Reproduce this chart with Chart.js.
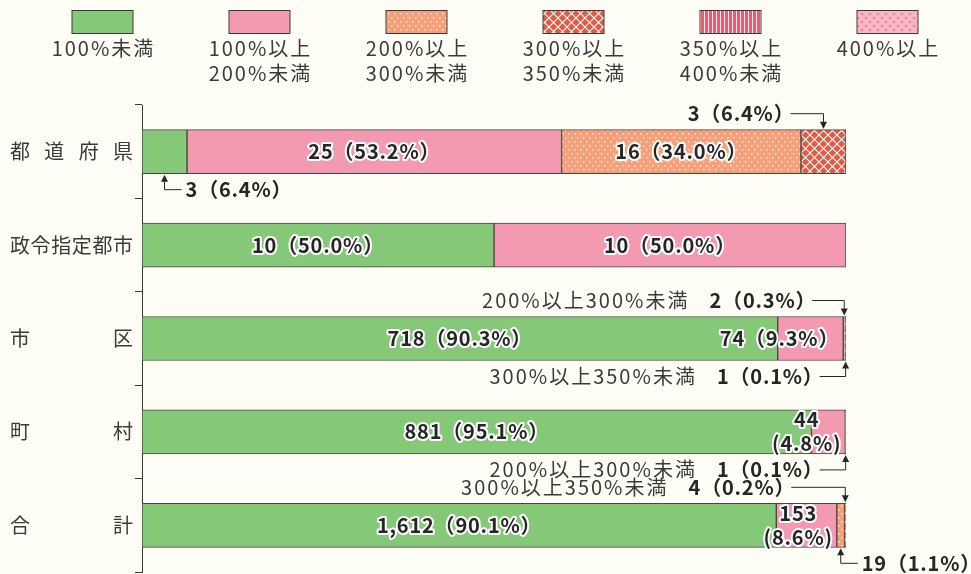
<!DOCTYPE html>
<html lang="ja">
<head>
<meta charset="utf-8">
<script src="https://cdn.jsdelivr.net/npm/chart.js@4.4.1/dist/chart.umd.min.js"></script>
<style>
  html, body { margin: 0; padding: 0; background: #fffef6; }
  #wrap { width: 971px; height: 574px; }
</style>
</head>
<body>
<div id="wrap"><canvas id="chart" width="971" height="574"></canvas></div>
<script>
const categories = ['都道府県', '政令指定都市', '市区', '町村', '合計'];
const seriesNames = [
    ['100%未満'],
    ['100%以上', '200%未満'],
    ['200%以上', '300%未満'],
    ['300%以上', '350%未満'],
    ['350%以上', '400%未満'],
    ['400%以上']
];

// 団体数
const countUnder100 = [3, 10, 718, 881, 1612];
const count100to200 = [25, 10, 74, 44, 153];
const count200to300 = [16, 0, 2, 1, 19];
const count300to350 = [3, 0, 1, 0, 4];
const count350to400 = [0, 0, 0, 0, 0];
const countOver400 = [0, 0, 0, 0, 0];

// 構成比（%）
const pctUnder100 = [6.4, 50.0, 90.3, 95.1, 90.1];
const pct100to200 = [53.2, 50.0, 9.3, 4.8, 8.6];
const pct200to300 = [34.0, 0, 0.3, 0.1, 1.1];
const pct300to350 = [6.4, 0, 0.1, 0, 0.2];
const pct350to400 = [0, 0, 0, 0, 0];
const pctOver400 = [0, 0, 0, 0, 0];

const counts = [countUnder100, count100to200, count200to300, count300to350, count350to400, countOver400];
const pcts = [pctUnder100, pct100to200, pct200to300, pct300to350, pct350to400, pctOver400];

const FONT = '"Noto Sans CJK JP", "Noto Sans", sans-serif';
const canvas = document.getElementById('chart');
const ctx = canvas.getContext('2d');

const makePattern = (w, h, base, draw) => {
    const tile = document.createElement('canvas');
    tile.width = w;
    tile.height = h;
    const g = tile.getContext('2d');
    g.fillStyle = base;
    g.fillRect(0, 0, w, h);
    draw(g);
    return ctx.createPattern(tile, 'repeat');
};

const dots = makePattern(6, 8, '#f5a078', g => {
    g.fillStyle = 'rgba(255,255,255,0.85)';
    g.fillRect(1, 1, 1.5, 1.5);
    g.fillRect(4, 5, 1.5, 1.5);
});
const lattice = makePattern(9, 9, '#de5b45', g => {
    g.strokeStyle = '#ffffff';
    g.lineWidth = 1.1;
    g.beginPath();
    g.moveTo(-1, -1); g.lineTo(10, 10);
    g.moveTo(10, -1); g.lineTo(-1, 10);
    g.stroke();
});
const stripes = makePattern(4, 4, '#f15a6c', g => {
    g.fillStyle = '#ffffff';
    g.fillRect(0, 0, 1, 4);
});
const triangles = makePattern(8, 8, '#fbb8c2', g => {
    g.fillStyle = '#f4889a';
    g.beginPath();
    g.moveTo(0, 1); g.lineTo(4, 1); g.lineTo(2, 4); g.closePath();
    g.moveTo(4, 5); g.lineTo(8, 5); g.lineTo(6, 8); g.closePath();
    g.fill();
});

const fills = ['#85c878', '#f49ab0', dots, lattice, stripes, triangles];

// 棒の中に書くラベルの置き方（データセット-団体区分）
const labelMode = {
    '1-0': 'center', '2-0': 'center',
    '0-1': 'center', '1-1': 'center',
    '0-2': 'center', '1-2': 'right',
    '0-3': 'center', '1-3': 'stack',
    '0-4': 'center', '1-4': 'stack'
};

// 棒の外に矢印で出すラベル
const callouts = [
    { ds: 3, idx: 0, side: 'above', dir: 'left', reach: 33, named: false },
    { ds: 0, idx: 0, side: 'below', dir: 'right', reach: 17, named: false },
    { ds: 2, idx: 2, side: 'above', dir: 'left', reach: 32, named: true },
    { ds: 3, idx: 2, side: 'below', dir: 'left', reach: 26, named: true },
    { ds: 2, idx: 3, side: 'below', dir: 'left', reach: 26, named: true },
    { ds: 3, idx: 4, side: 'above', dir: 'left', reach: 54, named: true },
    { ds: 2, idx: 4, side: 'below', dir: 'right', reach: 17, named: false }
];

const fmt = n => n.toLocaleString('en-US');

const outlined = (c, text, x, y) => {
    c.lineJoin = 'round';
    c.lineWidth = 4;
    c.strokeStyle = '#ffffff';
    c.strokeText(text, x, y);
    c.fillStyle = '#262626';
    c.fillText(text, x, y);
};

const background = {
    id: 'background',
    beforeDraw(chart) {
        const c = chart.ctx;
        c.save();
        c.fillStyle = '#fffef6';
        c.fillRect(0, 0, chart.width, chart.height);
        c.restore();
    }
};

const topLegend = {
    id: 'topLegend',
    afterDraw(chart) {
        const c = chart.ctx;
        c.save();
        chart.data.datasets.forEach((ds, i) => {
            const cx = 102.5 + i * 157;
            c.fillStyle = ds.backgroundColor;
            c.fillRect(cx - 30.5, 10, 61, 23);
            c.strokeStyle = '#3a3a3a';
            c.lineWidth = 1;
            c.strokeRect(cx - 30.5, 10.5, 61, 23);
            c.font = `20px ${FONT}`;
            c.letterSpacing = '2px';
            c.fillStyle = '#3a3a3a';
            c.textAlign = 'center';
            c.textBaseline = 'middle';
            seriesNames[i].forEach((line, j) => c.fillText(line, cx + 1, 48 + j * 25));
        });
        c.restore();
    }
};

// 縦軸の団体区分名を均等割りで書く
const categoryNames = {
    id: 'categoryNames',
    afterDraw(chart) {
        const c = chart.ctx;
        const yScale = chart.scales.y;
        const left = 10, right = 133;
        c.save();
        c.font = `20px ${FONT}`;
        c.fillStyle = '#3a3a3a';
        c.textAlign = 'left';
        c.textBaseline = 'middle';
        categories.forEach((name, i) => {
            const y = yScale.getPixelForValue(i);
            const chars = [...name];
            const widths = chars.map(ch => c.measureText(ch).width);
            const total = widths.reduce((a, b) => a + b, 0);
            const gap = chars.length > 1 ? (right - left - total) / (chars.length - 1) : 0;
            let x = left;
            chars.forEach((ch, k) => {
                c.fillText(ch, x, y);
                x += widths[k] + gap;
            });
        });
        c.restore();
    }
};

const barLabels = {
    id: 'barLabels',
    afterDatasetsDraw(chart) {
        const c = chart.ctx;
        c.save();
        c.font = `bold 20px ${FONT}`;
        c.letterSpacing = '0.8px';
        c.textBaseline = 'middle';

        Object.entries(labelMode).forEach(([key, mode]) => {
            const [ds, idx] = key.split('-').map(Number);
            const bar = chart.getDatasetMeta(ds).data[idx];
            const n = fmt(counts[ds][idx]);
            const p = pcts[ds][idx].toFixed(1);
            if (mode === 'center') {
                c.textAlign = 'center';
                outlined(c, `${n}（${p}%）`, (bar.base + bar.x) / 2, bar.y);
            } else if (mode === 'right') {
                c.textAlign = 'right';
                outlined(c, `${n}（${p}%）`, bar.x - 4, bar.y);
            } else {
                c.textAlign = 'center';
                const w = c.measureText(`(${p}%)`).width;
                const cx = bar.x - 4 - w / 2;
                outlined(c, n, cx, bar.y - 12);
                outlined(c, `(${p}%)`, cx, bar.y + 12);
            }
        });

        callouts.forEach(co => {
            const bar = chart.getDatasetMeta(co.ds).data[co.idx];
            const ax = (bar.base + bar.x) / 2;
            const half = bar.height / 2;
            const edge = co.side === 'above' ? bar.y - half - 1 : bar.y + half + 1;
            const ly = co.side === 'above' ? edge - 15 : edge + 15;
            const tipDir = co.side === 'above' ? 1 : -1;

            c.strokeStyle = '#262626';
            c.fillStyle = '#262626';
            c.lineWidth = 1;
            c.beginPath();
            const lx = co.dir === 'left' ? ax - co.reach : ax + co.reach;
            c.moveTo(lx, ly);
            c.lineTo(ax, ly);
            c.lineTo(ax, edge - tipDir * 6);
            c.stroke();
            c.beginPath();
            c.moveTo(ax, edge);
            c.lineTo(ax - 3.5, edge - tipDir * 7);
            c.lineTo(ax + 3.5, edge - tipDir * 7);
            c.closePath();
            c.fill();

            const value = `${fmt(counts[co.ds][co.idx])}（${pcts[co.ds][co.idx].toFixed(1)}%）`;
            const name = co.named ? seriesNames[co.ds].join('') : '';
            c.font = `bold 20px ${FONT}`;
            c.letterSpacing = '0.8px';
            const vw = c.measureText(value).width;
            c.font = `20px ${FONT}`;
            c.letterSpacing = '2px';
            const nw = name ? c.measureText(name).width + 20 : 0;
            // 全角の閉じ括弧は右側が空いているので、その分だけ線に寄せる
            const x0 = co.dir === 'left' ? lx + 4 - vw - nw : lx + 4;
            c.textAlign = 'left';
            if (name) {
                c.fillStyle = '#3a3a3a';
                c.fillText(name, x0, ly);
            }
            c.font = `bold 20px ${FONT}`;
            c.letterSpacing = '0.8px';
            c.fillStyle = '#262626';
            c.fillText(value, x0 + nw, ly);
        });
        c.restore();
    }
};

new Chart(ctx, {
    type: 'bar',
    data: {
        labels: categories,
        datasets: pcts.map((values, i) => ({
            label: seriesNames[i].join(''),
            data: values.map(v => (v === 0 ? null : v)),
            backgroundColor: fills[i],
            borderColor: '#454545',
            borderWidth: 1,
            borderSkipped: false,
            barThickness: 44
        }))
    },
    options: {
        indexAxis: 'y',
        responsive: false,
        animation: false,
        layout: { padding: { top: 105, right: 125, bottom: 2, left: 0 } },
        plugins: {
            legend: { display: false },
            tooltip: { enabled: false }
        },
        scales: {
            x: { stacked: true, min: 0, max: 100, display: false },
            y: {
                stacked: true,
                grid: { offset: true, drawOnChartArea: false, tickLength: 7, color: '#3a3a3a' },
                border: { color: '#3a3a3a', width: 1 },
                ticks: { display: false },
                afterFit: scale => { scale.width = 142; }
            }
        }
    },
    plugins: [background, topLegend, categoryNames, barLabels]
});
</script>
</body>
</html>
